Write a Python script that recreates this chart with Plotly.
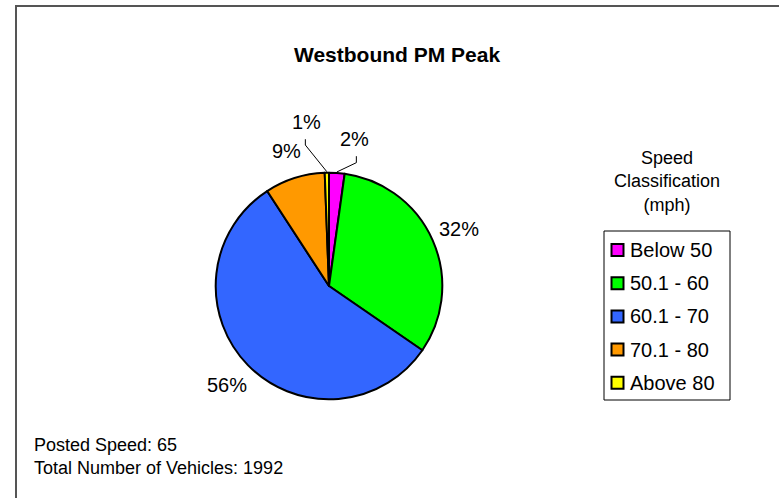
import math
import plotly.graph_objects as go

# ---------------- data ----------------
categories = ["Below 50", "50.1 - 60", "60.1 - 70", "70.1 - 80", "Above 80"]
vehicle_counts = [44, 645, 1120, 171, 12]
slice_colors = ["#FF00FF", "#00FF00", "#3366FF", "#FF9900", "#FFFF00"]
chart_title = "Westbound PM Peak"
legend_title_lines = ["Speed", "Classification", "(mph)"]
posted_speed = 65
total_vehicles = sum(vehicle_counts)

# ---------------- layout constants (pixels) ----------------
W, H = 779, 498
CX, CY, R = 329.0, 286.0, 113.3     # pie centre / radius
LABEL_R = 142.0                      # radius of label centres
FONT = "Arial, Liberation Sans, sans-serif"

def px(x):
    return x / W

def py(y):
    return 1 - y / H

# special leader-line placements for the tiny slices (offsets from the slice edge point)
leader = {
    "Above 80": dict(text=(-20.5, -51.0), elbow=(-21.5, -27.7), top=(-21.5, -33.5)),
    "Below 50": dict(text=(18.0, -34.0), elbow=(19.5, -10.3), top=(19.5, -16.8)),
}

fig = go.Figure()
fig.add_trace(go.Pie(
    labels=categories,
    values=vehicle_counts,
    sort=False,
    direction="clockwise",
    rotation=0,
    marker=dict(colors=slice_colors, line=dict(color="black", width=2)),
    textinfo="none",
    hoverinfo="label+value+percent",
    showlegend=False,
    domain=dict(x=[px(CX - R), px(CX + R)], y=[py(CY + R), py(CY - R)]),
))

annotations = []
shapes = []

# percentage labels placed from slice mid-angles
cum = 0
for cat, v in zip(categories, vehicle_counts):
    mid = (cum + v / 2) / total_vehicles * 2 * math.pi
    cum += v
    pct = f"{round(v / total_vehicles * 100):d}%"
    sx, sy = CX + R * math.sin(mid), CY - R * math.cos(mid)
    if cat in leader:
        d = leader[cat]
        tx, ty = sx + d["text"][0], sy + d["text"][1]
        ex, ey = sx + d["elbow"][0], sy + d["elbow"][1]
        ux, uy = sx + d["top"][0], sy + d["top"][1]
        shapes.append(dict(
            type="path", xref="paper", yref="paper",
            path=f"M {px(ux)} {py(uy)} L {px(ex)} {py(ey)} L {px(sx)} {py(sy - 1)}",
            line=dict(color="black", width=1),
        ))
    else:
        tx, ty = CX + LABEL_R * math.sin(mid), CY - LABEL_R * math.cos(mid)
    annotations.append(dict(
        x=px(tx), y=py(ty), xref="paper", yref="paper", text=pct, showarrow=False,
        xanchor="center", yanchor="middle", font=dict(family=FONT, size=20, color="black"),
    ))

# title
annotations.append(dict(
    x=px(397), y=py(54), xref="paper", yref="paper", text=f"<b>{chart_title}</b>",
    showarrow=False, xanchor="center", yanchor="middle",
    font=dict(family=FONT, size=21, color="black"),
))

# legend title
annotations.append(dict(
    x=px(667), y=py(181.5), xref="paper", yref="paper", text="<br>".join(legend_title_lines),
    showarrow=False, xanchor="center", yanchor="middle",
    font=dict(family=FONT, size=18, color="black"),
))

# legend box + entries
LX0, LY0, LX1, LY1 = 604, 231, 730, 400
shapes.append(dict(type="rect", xref="paper", yref="paper",
                   x0=px(LX0), x1=px(LX1), y0=py(LY1), y1=py(LY0),
                   line=dict(color="black", width=1), fillcolor="rgba(0,0,0,0)"))
for i, (cat, col) in enumerate(zip(categories, slice_colors)):
    yc = 250 + 33.2 * i
    shapes.append(dict(type="rect", xref="paper", yref="paper",
                       x0=px(611.5), x1=px(623.5), y0=py(yc + 6), y1=py(yc - 6),
                       line=dict(color="black", width=2), fillcolor=col))
    annotations.append(dict(
        x=px(628), y=py(yc), xref="paper", yref="paper", text=cat, showarrow=False,
        xanchor="left", yanchor="middle", font=dict(family=FONT, size=20, color="black"),
    ))

# footnotes
annotations.append(dict(
    x=px(32), y=py(445), xref="paper", yref="paper", text=f"Posted Speed: {posted_speed}",
    showarrow=False, xanchor="left", yanchor="middle",
    font=dict(family=FONT, size=18, color="black"),
))
annotations.append(dict(
    x=px(32), y=py(468), xref="paper", yref="paper",
    text=f"Total Number of Vehicles: {total_vehicles}",
    showarrow=False, xanchor="left", yanchor="middle",
    font=dict(family=FONT, size=18, color="black"),
))

# chart-area border (top and left visible)
shapes.append(dict(type="rect", xref="paper", yref="paper",
                   x0=px(16), x1=1.02, y0=-0.02, y1=py(6),
                   line=dict(color="#555555", width=2), fillcolor="rgba(0,0,0,0)"))

fig.update_layout(
    width=W, height=H,
    margin=dict(l=0, r=0, t=0, b=0),
    paper_bgcolor="white", plot_bgcolor="white",
    showlegend=False,
    annotations=annotations,
    shapes=shapes,
)

fig.write_html("out.html")
